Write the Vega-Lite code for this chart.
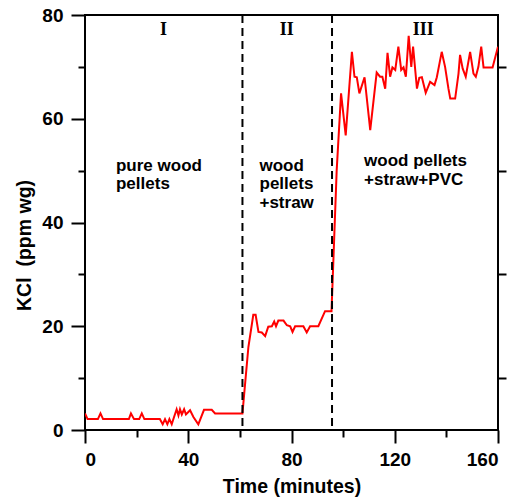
{
  "$schema": "https://vega.github.io/schema/vega-lite/v6.json",
  "width": 413,
  "height": 415,
  "autosize": {"type": "none"},
  "padding": {"left": 85, "top": 15, "right": 18, "bottom": 70},
  "background": "white",
  "config": {
    "view": {"stroke": "#000", "strokeWidth": 2},
    "axis": {
      "grid": false,
      "domain": false,
      "tickColor": "#000",
      "tickWidth": 2,
      "labelFont": "Liberation Sans",
      "labelFontWeight": "bold",
      "labelFontSize": 19,
      "labelColor": "#000",
      "titleFont": "Liberation Sans",
      "titleFontWeight": "bold",
      "titleFontSize": 19.5,
      "titleColor": "#000"
    }
  },
  "resolve": {"axis": {"x": "independent", "y": "independent"}},
  "layer": [
    {
      "data": {"values": [
        {"t": 0, "v": 3.2}, {"t": 1, "v": 2.1}, {"t": 5, "v": 2.1}, {"t": 6, "v": 3.2}, {"t": 7, "v": 2.1},
        {"t": 17, "v": 2.1}, {"t": 17.8, "v": 3.2}, {"t": 19, "v": 2.1}, {"t": 21, "v": 2.1}, {"t": 22, "v": 3.2},
        {"t": 23, "v": 2.1}, {"t": 29, "v": 2.1}, {"t": 30.1, "v": 1.1}, {"t": 31, "v": 2.1}, {"t": 31.9, "v": 1.1},
        {"t": 32.7, "v": 2.1}, {"t": 33.6, "v": 1.1}, {"t": 34.5, "v": 2.5}, {"t": 35.5, "v": 4}, {"t": 36.2, "v": 2.8},
        {"t": 36.8, "v": 4}, {"t": 37.5, "v": 3}, {"t": 38.4, "v": 4}, {"t": 39.1, "v": 3}, {"t": 40.7, "v": 3.8},
        {"t": 42, "v": 2.5}, {"t": 43.9, "v": 1.1}, {"t": 46.1, "v": 3.9}, {"t": 49.1, "v": 3.9}, {"t": 50.4, "v": 3.2},
        {"t": 61, "v": 3.2},
        {"t": 63.3, "v": 16}, {"t": 65.2, "v": 22.2}, {"t": 66.1, "v": 22.2}, {"t": 67.2, "v": 18.9}, {"t": 68.5, "v": 18.8},
        {"t": 69.8, "v": 18.1}, {"t": 71, "v": 19.9}, {"t": 72.4, "v": 20}, {"t": 73.3, "v": 20.9}, {"t": 74, "v": 20},
        {"t": 74.9, "v": 21.1}, {"t": 76.9, "v": 21.1}, {"t": 78.2, "v": 20.2}, {"t": 79.5, "v": 20}, {"t": 80.4, "v": 18.9},
        {"t": 81.4, "v": 20}, {"t": 84.6, "v": 20}, {"t": 85.9, "v": 18.8}, {"t": 87.2, "v": 20}, {"t": 90.4, "v": 20},
        {"t": 93, "v": 22.9}, {"t": 95.5, "v": 22.9},
        {"t": 97.5, "v": 50}, {"t": 99.2, "v": 64.9}, {"t": 101, "v": 56.8}, {"t": 103.4, "v": 72.9}, {"t": 104.4, "v": 68.1},
        {"t": 105.3, "v": 68}, {"t": 106.3, "v": 64.9}, {"t": 108.3, "v": 68}, {"t": 110.5, "v": 57.8}, {"t": 113, "v": 68.9},
        {"t": 114.3, "v": 68.1}, {"t": 115.2, "v": 68.1}, {"t": 116.3, "v": 65.8}, {"t": 117.2, "v": 72.7}, {"t": 118.2, "v": 68.1},
        {"t": 119.1, "v": 69.9}, {"t": 120.2, "v": 69.4}, {"t": 121.4, "v": 73.9}, {"t": 122.5, "v": 69.4}, {"t": 123.4, "v": 69.9},
        {"t": 124.3, "v": 68.1}, {"t": 125.4, "v": 76}, {"t": 126.4, "v": 70}, {"t": 127.1, "v": 73.9}, {"t": 128.6, "v": 65.8},
        {"t": 129.5, "v": 67.9}, {"t": 130.5, "v": 68}, {"t": 132, "v": 65}, {"t": 133.7, "v": 67.1}, {"t": 135.4, "v": 66.5},
        {"t": 136.3, "v": 68}, {"t": 138.2, "v": 72.9}, {"t": 139.5, "v": 70}, {"t": 140.8, "v": 65.8}, {"t": 141.5, "v": 63.9},
        {"t": 143.4, "v": 63.9}, {"t": 144.7, "v": 68.7}, {"t": 145.3, "v": 72.3}, {"t": 146.3, "v": 69.7}, {"t": 147.5, "v": 68.1},
        {"t": 149.2, "v": 72.9}, {"t": 150.5, "v": 68.7}, {"t": 151.4, "v": 68.1}, {"t": 152.4, "v": 70}, {"t": 153.5, "v": 73.9},
        {"t": 154.4, "v": 69.9}, {"t": 157.9, "v": 69.9}, {"t": 160, "v": 73.9}
      ]},
      "mark": {"type": "line", "color": "#ff0000", "strokeWidth": 2, "clip": true},
      "encoding": {
        "x": {"field": "t", "type": "quantitative", "scale": {"domain": [0, 160], "nice": false, "zero": false},
          "axis": {"orient": "bottom", "values": [0, 40, 80, 120, 160], "tickSize": 13, "labelPadding": 7,
            "title": "Time (minutes)", "titleY": 62, "titleBaseline": "alphabetic"}},
        "y": {"field": "v", "type": "quantitative", "scale": {"domain": [0, 80], "nice": false},
          "axis": {"orient": "left", "values": [0, 20, 40, 60, 80], "tickSize": 14, "labelPadding": 8,
            "title": "KCl\u00a0 (ppm wg)", "titleX": -55, "titleY": 230, "titleAngle": -90, "titleAlign": "center", "titleBaseline": "alphabetic"}}
      }
    },
    {
      "data": {"values": [{"t": 61}, {"t": 95.7}]},
      "mark": {"type": "rule", "color": "#000", "strokeWidth": 2, "strokeDash": [8, 5]},
      "encoding": {
        "x": {"field": "t", "type": "quantitative", "scale": {"domain": [0, 160], "nice": false, "zero": false},
          "axis": {"orient": "bottom", "values": [20, 60, 100, 140], "tickSize": 7, "labels": false, "title": null}}
      }
    },
    {
      "data": {"values": [
        {"t": 12, "v": 50, "label": "pure wood\npellets"},
        {"t": 67.6, "v": 50, "label": "wood\npellets\n+straw"},
        {"t": 108.1, "v": 50.9, "label": "wood pellets\n+straw+PVC"}
      ]},
      "mark": {"type": "text", "align": "left", "baseline": "alphabetic", "lineBreak": "\n", "lineHeight": 18.8,
        "font": "Liberation Sans", "fontWeight": "bold", "fontSize": 17, "color": "#000"},
      "encoding": {
        "x": {"field": "t", "type": "quantitative", "scale": {"domain": [0, 160], "nice": false, "zero": false}, "axis": null},
        "y": {"field": "v", "type": "quantitative", "scale": {"domain": [0, 80], "nice": false},
          "axis": {"orient": "left", "values": [10, 30, 50, 70], "tickSize": 7, "labels": false, "title": null}},
        "text": {"field": "label"}
      }
    },
    {
      "data": {"values": [
        {"t": 30.4, "v": 76.1, "label": "I"},
        {"t": 78.2, "v": 76.1, "label": "II"},
        {"t": 131, "v": 76.1, "label": "III"}
      ]},
      "mark": {"type": "text", "align": "center", "baseline": "alphabetic",
        "font": "Liberation Serif", "fontWeight": "bold", "fontSize": 18, "color": "#000"},
      "encoding": {
        "x": {"field": "t", "type": "quantitative", "scale": {"domain": [0, 160], "nice": false, "zero": false}, "axis": null},
        "y": {"field": "v", "type": "quantitative", "scale": {"domain": [0, 80], "nice": false},
          "axis": {"orient": "right", "values": [10, 30, 50, 70], "tickSize": 8, "labels": false, "title": null}},
        "text": {"field": "label"}
      }
    }
  ]
}
